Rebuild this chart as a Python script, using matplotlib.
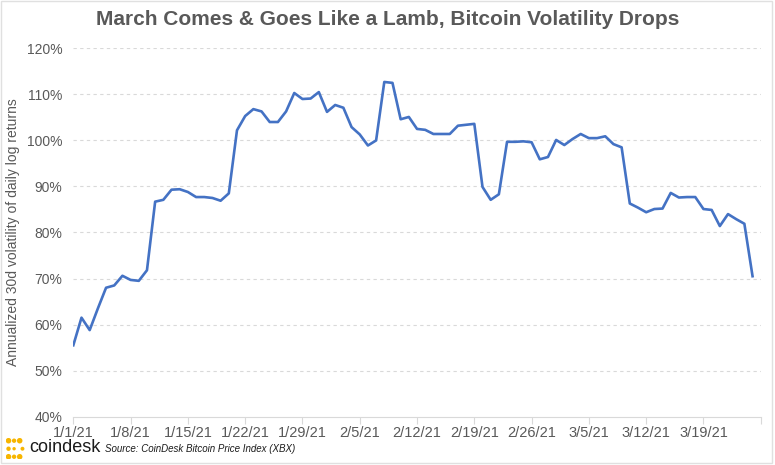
#!/usr/bin/env python3
"""Bitcoin 30d annualized volatility, Q1 2021"""

import matplotlib
matplotlib.use("Agg")
import matplotlib.pyplot as plt
import pandas as pd
from matplotlib.patches import Rectangle

plt.rcParams["font.family"] = ["Liberation Sans", "DejaVu Sans"]

start_date = "2021-01-01"
# annualized 30d volatility of daily log returns, % (daily from 1/1/21)
volatility = [
    55.5, 61.5, 58.8, 63.5, 68.0, 68.5, 70.6, 69.7, 69.5, 71.8,
    86.7, 87.1, 89.3, 89.4, 88.8, 87.7, 87.7, 87.5, 86.9, 88.5,
    102.2, 105.3, 106.8, 106.3, 104.0, 104.0, 106.3, 110.3, 109.0, 109.1,
    110.5, 106.2, 107.7, 107.1, 102.9, 101.3, 98.9, 100.0, 112.7, 112.5,
    104.6, 105.1, 102.5, 102.3, 101.4, 101.4, 101.4, 103.2, 103.4, 103.6,
    89.9, 87.1, 88.3, 99.7, 99.7, 99.8, 99.6, 95.9, 96.4, 100.1,
    99.0, 100.3, 101.4, 100.5, 100.5, 100.9, 99.2, 98.5, 86.3, 85.4,
    84.4, 85.1, 85.2, 88.6, 87.6, 87.7, 87.7, 85.1, 84.9, 81.4,
    84.0, 82.9, 81.9, 70.5,
]
dates = pd.date_range(start_date, periods=len(volatility), freq="D")
tick_dates = pd.date_range(start_date, "2021-03-26", freq="7D")
tick_labels = [f"{d.month}/{d.day}/21" for d in tick_dates[:-1]] + [""]
y_ticks = [40, 50, 60, 70, 80, 90, 100, 110, 120]

grey = "#595959"
fig = plt.figure(figsize=(7.75, 4.65), dpi=100)
ax = fig.add_axes([0.0946, 0.104, 0.887, 0.792])

ax.plot(dates, volatility, color="#4472C4", linewidth=1.9)

ax.set_xlim(pd.Timestamp(start_date), pd.Timestamp("2021-03-26"))
ax.set_ylim(40, 120)
ax.set_yticks(y_ticks)
ax.set_yticklabels([f"{v}%" for v in y_ticks])
ax.set_xticks(tick_dates)
ax.set_xticklabels(tick_labels)

for v in y_ticks[1:]:
    ax.axhline(v, color="#D9D9D9", linewidth=0.8, linestyle=(0, (3, 3)), zorder=0)

for side in ["top", "right", "left"]:
    ax.spines[side].set_visible(False)
ax.spines["bottom"].set_color("#D9D9D9")
ax.tick_params(axis="y", length=0, labelsize=10, labelcolor=grey, pad=8)
ax.tick_params(axis="x", length=5, color="#D9D9D9", labelsize=10.5,
               labelcolor=grey, pad=2)
ax.set_ylabel("Annualized 30d volatility of daily log returns",
              fontsize=10, color=grey, labelpad=5)

fig.text(0.5, 0.957, "March Comes & Goes Like a Lamb, Bitcoin Volatility Drops",
         ha="center", va="center", fontsize=15, fontweight="bold", color=grey)

# footer: logo and source
logo = fig.add_axes([0.008, 0.012, 0.024, 0.046])
logo.set_xlim(0, 4)
logo.set_ylim(0, 4)
logo.axis("off")
dots_x = [0.5, 0.5, 0.5, 1.7, 2.9, 1.7, 2.9, 3.5, 1.7]
dots_y = [0.5, 2.0, 3.5, 3.5, 3.5, 0.5, 0.5, 2.0, 2.0]
dot_sizes = [16, 10, 16, 10, 16, 10, 16, 8, 6]
logo.scatter(dots_x, dots_y, s=dot_sizes, color="#F7B500", linewidths=0)
fig.text(0.038, 0.037, "coindesk", fontsize=13, color="#1a1a1a",
         va="center", ha="left")
fig.text(0.135, 0.034, "Source: CoinDesk Bitcoin Price Index (XBX)",
         fontsize=7, style="italic", color="#1a1a1a", va="center", ha="left")

fig.patches.append(Rectangle((0.001, 0.004), 0.995, 0.994,
                             transform=fig.transFigure, fill=False,
                             edgecolor="#E0E0E0", linewidth=1))

fig.savefig("out.png", dpi=100)
